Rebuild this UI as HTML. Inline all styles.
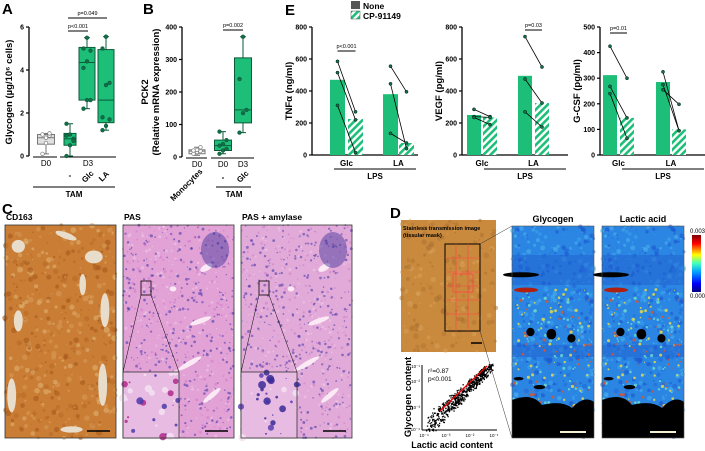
<!DOCTYPE html>
<html><head><meta charset="utf-8"><style>
body{margin:0;background:#fff;}
svg{display:block;font-family:"Liberation Sans",Arial,sans-serif;}
</style></head><body>
<svg id="fig" width="705" height="451" viewBox="0 0 705 451">
<g id="gA"></g>
<g id="gB"></g>
<g id="gE"></g>
<g id="gC"></g>
<g id="gD"></g>
</svg>
<script>
// Panel A data
const aCats=["D0","-","Glc","LA"];
const aMin=[0.1,0,2.2,1.2];
const aQ1=[0.55,0.5,2.6,1.55];
const aMed=[0.85,0.8,4.35,2.6];
const aQ3=[1.0,1.05,5.05,4.95];
const aMax=[1.05,1.5,5.5,5.55];
const aPts=[[0.1,0.6,0.95,1.0,0.85,1.05],[0,0.5,0.8,0.95,1.0,0.7,1.5],[2.2,2.6,2.6,4.1,4.4,4.9,5.0,5.5],[1.2,1.4,1.7,1.8,3.3,3.4,5.0,5.55]];
const aTicks=[0,2,4,6];
// Panel B data
const bCats=["Monocytes","TAM D0","TAM Glc"];
const bMin=[5,10,75];
const bQ1=[10,20,105];
const bMed=[18,35,145];
const bQ3=[22,52,305];
const bMax=[30,78,370];
const bPts=[[10,15,18,20,22,30],[10,20,25,35,40,52,78],[75,135,145,240,370]];
const bTicks=[0,100,200,300,400];
// Panel E data
const eTitles=["TNFα (ng/ml)","VEGF (pg/ml)","G-CSF (pg/ml)"];
const eMax=[800,800,500];
const eTicks=[[0,200,400,600,800],[0,200,400,600,800],[0,100,200,300,400,500]];
const eNone=[[470,380],[250,495],[312,285]];
const eCP=[[225,75],[235,325],[145,100]];
const ePairsBefore=[[[585,515,310],[555,445,135]],[[285,240,235],[740,475,270]],[[425,268,240],[325,275,255]]];
const ePairsAfter=[[[270,220,15],[395,40,75]],[[240,235,190],[550,325,175]],[[300,145,65],[95,95,198]]];

const NS="http://www.w3.org/2000/svg";
function el(p,t,a,txt){const e=document.createElementNS(NS,t);for(const k in a)e.setAttribute(k,a[k]);if(txt!==undefined)e.textContent=txt;p.appendChild(e);return e;}
const G="#1dbf78",DG="#12704a";
const svg=document.getElementById('fig');
const defs=el(svg,'defs',{});
const pat=el(defs,'pattern',{id:'hatch',width:5,height:5,patternUnits:'userSpaceOnUse',patternTransform:'rotate(45)'});
el(pat,'rect',{width:5,height:5,fill:'#fff'});
el(pat,'rect',{width:2.6,height:5,fill:G});

function label(p,x,y,t,name){const e=el(p,'text',{x:x,y:y,'font-size':15,'font-weight':'bold'},t);}
function yAxis(p,x,y0,y1,ticks,max){
  el(p,'line',{x1:x,y1:y0,x2:x,y2:y1,stroke:'#000','stroke-width':1.3});
  ticks.forEach(v=>{const y=y0-(v/max)*(y0-y1);el(p,'line',{x1:x-3,y1:y,x2:x,y2:y,stroke:'#000','stroke-width':1.2});
    const t=el(p,'text',{x:x-5,y:y+2.5,'font-size':7,'font-weight':'bold','text-anchor':'end'},v);});
}
function vtitle(p,x,y,lines){lines.forEach((l,i)=>{const t=el(p,'text',{x:0,y:0,'font-size':9.5,'font-weight':'bold','text-anchor':'middle',transform:`translate(${x+i*11},${y}) rotate(-90)`},l);});}
function box(p,cx,w,ys,vals,fill,pfill,pts,stroke){
  const [mn,q1,md,q3,mx]=vals.map(ys);
  el(p,'line',{x1:cx,y1:mx,x2:cx,y2:mn,stroke:stroke,'stroke-width':1});
  [mn,mx].forEach(y=>el(p,'line',{x1:cx-3,y1:y,x2:cx+3,y2:y,stroke:stroke,'stroke-width':1}));
  const r=el(p,'rect',{x:cx-w/2,y:q3,width:w,height:q1-q3,fill:fill,stroke:stroke,'stroke-width':1});
  
  el(p,'line',{x1:cx-w/2,y1:md,x2:cx+w/2,y2:md,stroke:stroke,'stroke-width':1});
  pts.forEach((v,i)=>{const c=el(p,'circle',{cx:cx+((i%3)-1)*3.5,cy:ys(v),r:1.8,fill:pfill,stroke:stroke,'stroke-width':0.7});});
}
function sig(p,x1,x2,y,t){el(p,'line',{x1:x1,y1:y,x2:x2,y2:y,stroke:'#000','stroke-width':1});el(p,'text',{x:(x1+x2)/2,y:y-3,'font-size':5.5,'text-anchor':'middle'},t);}

// Panel A
(function(){const p=document.getElementById('gA');label(p,2,14,'A','panel-label-a');
 const y0=156,y1=27,ys=v=>y0-v/6*(y0-y1);
 yAxis(p,29,y0,y1,aTicks,6);vtitle(p,12,92,['Glycogen (µg/10⁶ cells)']);
 const cx=[46,70,87,106];
 el(p,'line',{x1:33,y1:157,x2:57,y2:157,stroke:'#000'});el(p,'line',{x1:60,y1:157,x2:116,y2:157,stroke:'#000'});
 aCats.forEach((c,i)=>{const gray=i===0;box(p,cx[i],gray?17:(i===1?12:16),ys,[aMin[i],aQ1[i],aMed[i],aQ3[i],aMax[i]],gray?'#e0e0e0':G,gray?'#fff':DG,aPts[i],gray?'#777':'#0d5a3a');});
 el(p,'text',{x:46,y:166,'font-size':8,'text-anchor':'middle'},'D0');el(p,'text',{x:88,y:166,'font-size':8,'text-anchor':'middle'},'D3');
 el(p,'text',{x:70,y:178,'font-size':8,'font-weight':'bold','text-anchor':'middle'},'-');
 el(p,'text',{x:0,y:0,'font-size':8,'font-weight':'bold',transform:'translate(85,183) rotate(-45)'},'Glc');
 el(p,'text',{x:0,y:0,'font-size':8,'font-weight':'bold',transform:'translate(102,182) rotate(-45)'},'LA');
 el(p,'line',{x1:33,y1:187,x2:115,y2:187,stroke:'#000'});el(p,'text',{x:74,y:197,'font-size':8,'font-weight':'bold','text-anchor':'middle'},'TAM');
 sig(p,68,88,31,'p<0.001');sig(p,68,107,18,'p=0.049');
})();
// Panel B
(function(){const p=document.getElementById('gB');label(p,143,14,'B','panel-label-b');
 const y0=157,y1=27,ys=v=>y0-v/400*(y0-y1);
 yAxis(p,182,y0,y1,bTicks,400);vtitle(p,148,92,['PCK2','(Relative mRNA expression)']);
 const cx=[197,223,243],w=[16,17,17];
 el(p,'line',{x1:186,y1:158,x2:207,y2:158,stroke:'#000'});el(p,'line',{x1:211,y1:158,x2:254,y2:158,stroke:'#000'});
 bCats.forEach((c,i)=>{const gray=i===0;box(p,cx[i],w[i],ys,[bMin[i],bQ1[i],bMed[i],bQ3[i],bMax[i]],gray?'#fff':G,gray?'#fff':DG,bPts[i],gray?'#777':'#0d5a3a');});
 [['D0',197],['D0',223],['D3',243]].forEach(a=>el(p,'text',{x:a[1],y:167,'font-size':8,'text-anchor':'middle'},a[0]));
 el(p,'text',{x:0,y:0,'font-size':8,'font-weight':'bold','text-anchor':'end',transform:'translate(203,172) rotate(-45)'},'Monocytes');
 el(p,'text',{x:223,y:180,'font-size':8,'font-weight':'bold','text-anchor':'middle'},'-');
 el(p,'text',{x:0,y:0,'font-size':8,'font-weight':'bold',transform:'translate(240,183) rotate(-45)'},'Glc');
 el(p,'line',{x1:216,y1:187,x2:251,y2:187,stroke:'#000'});el(p,'text',{x:234,y:197,'font-size':8,'font-weight':'bold','text-anchor':'middle'},'TAM');
 sig(p,223,243,30,'p=0.002');
})();
// Panel E
(function(){const p=document.getElementById('gE');label(p,285,15,'E','panel-label-e');
 const lg=el(p,'g',{});
 el(lg,'rect',{x:351,y:1,width:9,height:8,fill:'#555'});el(lg,'text',{x:363,y:9,'font-size':8.5,'font-weight':'bold'},'None');
 el(lg,'rect',{x:351,y:11,width:9,height:8,fill:'url(#hatch)',stroke:'#555','stroke-width':0.5});el(lg,'text',{x:363,y:19,'font-size':8.5,'font-weight':'bold'},'CP-91149');
 const ax=[312,462,600],bx=[[330,348,383,399],[467,483,518,535],[603,620,656,672]],bw=[15,14,14,14];
 const sigs=[[0,'p<0.001',51],[1,'p=0.03',30],[0,'p=0.01',33]];
 const y0=155,y1=27;
 for(let c=0;c<3;c++){const ys=v=>y0-v/eMax[c]*(y0-y1);
  yAxis(p,ax[c],y0,y1,eTicks[c],eMax[c]);vtitle(p,ax[c]-20,91,[eTitles[c]]);
  el(p,'line',{x1:ax[c],y1:y0,x2:ax[c]+106,y2:y0,stroke:'#000','stroke-width':1.3});
  for(let g=0;g<2;g++){
   const xn=bx[c][g*2],xc=bx[c][g*2+1];
   const r1=el(p,'rect',{x:xn,y:ys(eNone[c][g]),width:bw[c],height:y0-ys(eNone[c][g]),fill:G});
   const r2=el(p,'rect',{x:xc,y:ys(eCP[c][g]),width:bw[c],height:y0-ys(eCP[c][g]),fill:'url(#hatch)'});
   for(let k=0;k<3;k++){const ya=ys(ePairsBefore[c][g][k]),yb=ys(ePairsAfter[c][g][k]);
    const l=el(p,'line',{x1:xn+bw[c]/2,y1:ya,x2:xc+bw[c]/2,y2:yb,stroke:'#000','stroke-width':0.8});
    el(p,'circle',{cx:xn+bw[c]/2,cy:ya,r:1.6,fill:DG,stroke:'#000','stroke-width':0.4});el(p,'circle',{cx:xc+bw[c]/2,cy:yb,r:1.6,fill:DG,stroke:'#000','stroke-width':0.4});}
   el(p,'text',{x:(xn+xc+bw[c])/2,y:166,'font-size':8,'font-weight':'bold','text-anchor':'middle'},g?'LA':'Glc');
  }
  el(p,'line',{x1:ax[c]+22,y1:169,x2:ax[c]+104,y2:169,stroke:'#000'});el(p,'text',{x:ax[c]+63,y:179,'font-size':8,'font-weight':'bold','text-anchor':'middle'},'LPS');
  const s=sigs[c],g=s[0];sig(p,bx[c][g*2]+bw[c]/2,bx[c][g*2+1]+bw[c]/2,s[2],s[1]);
 }
})();
// noise helper
let seed=7;function rnd(){seed=(seed*16807)%2147483647;return seed/2147483647;}
function texture(p,x,y,w,h,base,cols,n,rmax,op){el(p,'rect',{x:x,y:y,width:w,height:h,fill:base});for(let i=0;i<n;i++)el(p,'circle',{cx:x+rnd()*w,cy:y+rnd()*h,r:0.5+rnd()*rmax,fill:cols[Math.floor(rnd()*cols.length)],opacity:op||0.6});}
function blobs(p,x,y,w,h,col,list){list.forEach(b=>el(p,'ellipse',{cx:x+b[0]*w,cy:y+b[1]*h,rx:b[2]*w,ry:b[3]*h,fill:col,transform:`rotate(${b[4]||0} ${x+b[0]*w} ${y+b[1]*h})`}));}
// Panel C
(function(){const p=document.getElementById('gC');label(p,2,214,'C','panel-label-c');
 const imgs=[[5,'CD163','#c97d35',['#a85a1c','#d99a55','#b86a25','#e0b070'],500,2.5],[123,'PAS','#e2a2d6',['#4a3aa8','#d27cc8','#5a3fb0','#f0c8ea'],800,1.0],[241,'PAS + amylase','#e2aad8',['#4a3aa8','#d080c8','#5a3fb0','#f0c8ea'],800,1.0]];
 imgs.forEach((m,i)=>{const g=el(p,'g',{});
  el(g,'text',{x:m[0]+1,y:220,'font-size':8.5,'font-weight':'bold'},m[1]);
  seed=11+i;texture(g,m[0],225,111,213,m[2],m[3],m[4],m[5]);
  if(i===0){blobs(g,5,225,111,213,'#e8dccb',[[0.12,0.1,0.06,0.03],[0.55,0.05,0.1,0.015,20],[0.8,0.15,0.08,0.03],[0.9,0.4,0.04,0.08],[0.88,0.75,0.04,0.1],[0.12,0.45,0.04,0.05],[0.06,0.8,0.04,0.08],[0.6,0.96,0.1,0.015],[0.7,0.28,0.03,0.05]]);}
  else{blobs(g,m[0],225,111,213,'#fbeaf6',[[0.75,0.2,0.06,0.015,-30],[0.7,0.45,0.1,0.012,-20],[0.6,0.65,0.12,0.012,-30],[0.8,0.8,0.1,0.012,-40],[0.45,0.3,0.03,0.012]]);
   el(g,'ellipse',{cx:m[0]+92,cy:250,rx:14,ry:18,fill:'#3a2f9a',opacity:0.45});}
  el(g,'rect',{x:m[0],y:225,width:111,height:213,fill:'none',stroke:'#333','stroke-width':0.8});
  el(g,'line',{x1:m[0]+82,y1:431,x2:m[0]+105,y2:431,stroke:'#000','stroke-width':1.5});
  if(i>0){const ix=m[0]+18;el(g,'rect',{x:ix,y:281,width:10,height:14,fill:'none',stroke:'#000','stroke-width':0.8});
   el(g,'line',{x1:ix,y1:295,x2:m[0],y2:372,stroke:'#000','stroke-width':0.5});el(g,'line',{x1:ix+10,y1:295,x2:m[0]+56,y2:372,stroke:'#000','stroke-width':0.5});
   seed=40+i;texture(g,m[0],372,56,66,'#e8bce2',i==1?['#b02a8a','#4a3aa8','#f4e2f2']:['#5a3fb0','#3a2a98','#f4e2f2'],30,3.5,0.85);
   el(g,'rect',{x:m[0],y:372,width:56,height:66,fill:'none',stroke:'#333','stroke-width':0.8});}
 });
})();
// Panel D
(function(){const p=document.getElementById('gD');label(p,390,218,'D','panel-label-d');
 const t=el(p,'g',{});
 seed=3;texture(t,401,220,95,132,'#c98a3e',['#b07432','#d9a25a','#a86d2e'],200,2.5,0.5);
 el(t,'text',{x:403,y:230,'font-size':5.5,'font-weight':'bold'},'Stainless transmission image');el(t,'text',{x:403,y:237,'font-size':5.5,'font-weight':'bold'},'(tissular mask)');
 el(t,'rect',{x:445,y:244,width:35,height:87,fill:'none',stroke:'#000','stroke-width':1});
 [258,272,286,300,314].forEach(y=>el(t,'line',{x1:445,y1:y,x2:480,y2:y,stroke:'#f44','stroke-width':0.6}));
 [456,468].forEach(x=>el(t,'line',{x1:x,y1:244,x2:x,y2:331,stroke:'#f44','stroke-width':0.6}));
 el(t,'rect',{x:453,y:274,width:20,height:18,fill:'none',stroke:'#f44','stroke-width':0.8});
 el(t,'line',{x1:471,y1:343,x2:482,y2:343,stroke:'#000','stroke-width':1.5});
 el(p,'line',{x1:480,y1:244,x2:512,y2:226,stroke:'#333','stroke-width':0.5});el(p,'line',{x1:480,y1:331,x2:512,y2:438,stroke:'#333','stroke-width':0.5});
 [[512,'Glycogen'],[602,'Lactic acid']].forEach((m,i)=>{const g=el(p,'g',{});
  el(g,'text',{x:m[0]+41,y:222,'font-size':9,'font-weight':'bold','text-anchor':'middle'},m[1]);
  seed=99;texture(g,m[0],226,82,212,'#2a86e2',['#1f5fd8','#4fb8f0','#1848c8','#40a8f0'],500,2,0.5);
  el(g,'rect',{x:m[0],y:255,width:82,height:30,fill:'#2060d0',opacity:0.5});
  el(g,'rect',{x:m[0],y:345,width:82,height:12,fill:'#2060d0',opacity:0.5});
  seed=5;for(let k=0;k<180;k++){const yy=226+(0.3+0.6*rnd())*212;el(g,'circle',{cx:m[0]+rnd()*82,cy:yy,r:0.5+rnd()*1.2,fill:['#f0e040','#e85020','#70e0d0'][k%3],opacity:0.8});}
  el(g,'ellipse',{cx:m[0]+14,cy:290,rx:12,ry:2.5,fill:'#b02010'});
  [[0,0.23,0.22,0.012],[0.2,0.5,0.05,0.02],[0.45,0.51,0.06,0.025],[0.7,0.53,0.05,0.02],[0.05,0.72,0.06,0.008],[0.3,0.76,0.07,0.01],[0.2,0.86,0.1,0.02]].forEach(b=>el(g,'ellipse',{cx:m[0]+b[0]*82+b[2]*41,cy:226+b[1]*212,rx:b[2]*82,ry:b[3]*212,fill:'#000'}));
  el(g,'path',{d:`M${m[0]} 400 Q${m[0]+20} 392 ${m[0]+30} 405 Q${m[0]+50} 400 ${m[0]+60} 408 Q${m[0]+72} 395 ${m[0]+82} 402 L${m[0]+82} 438 L${m[0]} 438 Z`,fill:'#000'});
  el(g,'rect',{x:m[0],y:226,width:82,height:212,fill:'none',stroke:'#555','stroke-width':0.6});
  el(g,'line',{x1:m[0]+48,y1:432,x2:m[0]+74,y2:432,stroke:'#f5f0d0','stroke-width':2});});
 const lgd=el(defs,'linearGradient',{id:'jet',x1:0,y1:0,x2:0,y2:1});
 [['0','#800000'],['0.15','#ff0000'],['0.35','#ffff00'],['0.5','#40ffc0'],['0.65','#00a0ff'],['0.85','#0000ff'],['1','#000080']].forEach(s=>el(lgd,'stop',{offset:s[0],'stop-color':s[1]}));
 const cb=el(p,'rect',{x:692,y:235,width:9,height:57,fill:'url(#jet)'});
 el(p,'text',{x:705,y:233,'font-size':6,'text-anchor':'end'},'0.003');el(p,'text',{x:705,y:298,'font-size':6,'text-anchor':'end'},'0.000');
 const s=el(p,'g',{});
 el(s,'line',{x1:422,y1:365,x2:422,y2:430,stroke:'#000'});el(s,'line',{x1:422,y1:430,x2:497,y2:430,stroke:'#000'});
 seed=5;for(let i=0;i<600;i++){const u=Math.pow(rnd(),0.8);const x=428+u*62+(rnd()-0.5)*6,y=425-u*58+(rnd()-0.5)*(8+12*(1-u));el(s,'rect',{x:x,y:y,width:1.3,height:1.3,fill:'#000'});}
 el(s,'line',{x1:440,y1:411,x2:487,y2:366,stroke:'#e00','stroke-width':1.3});
 el(s,'text',{x:428,y:373,'font-size':6.5},'r²=0.87');el(s,'text',{x:428,y:381,'font-size':6.5},'p<0.001');
 [['10⁻¹',366],['10⁻²',381],['10⁻³',407],['10⁻⁴',429]].forEach(a=>el(s,'text',{x:420,y:a[1]+2,'font-size':4.5,'text-anchor':'end'},a[0]));
 [['10⁻⁴',424],['10⁻³',446],['10⁻²',470],['10⁻¹',494]].forEach(a=>el(s,'text',{x:a[1],y:437,'font-size':4.5,'text-anchor':'middle'},a[0]));
 vtitle(s,411,397,['Glycogen content']);
 el(s,'text',{x:452,y:448,'font-size':9,'font-weight':'bold','text-anchor':'middle'},'Lactic acid content');
})();
</script>
</body></html>
